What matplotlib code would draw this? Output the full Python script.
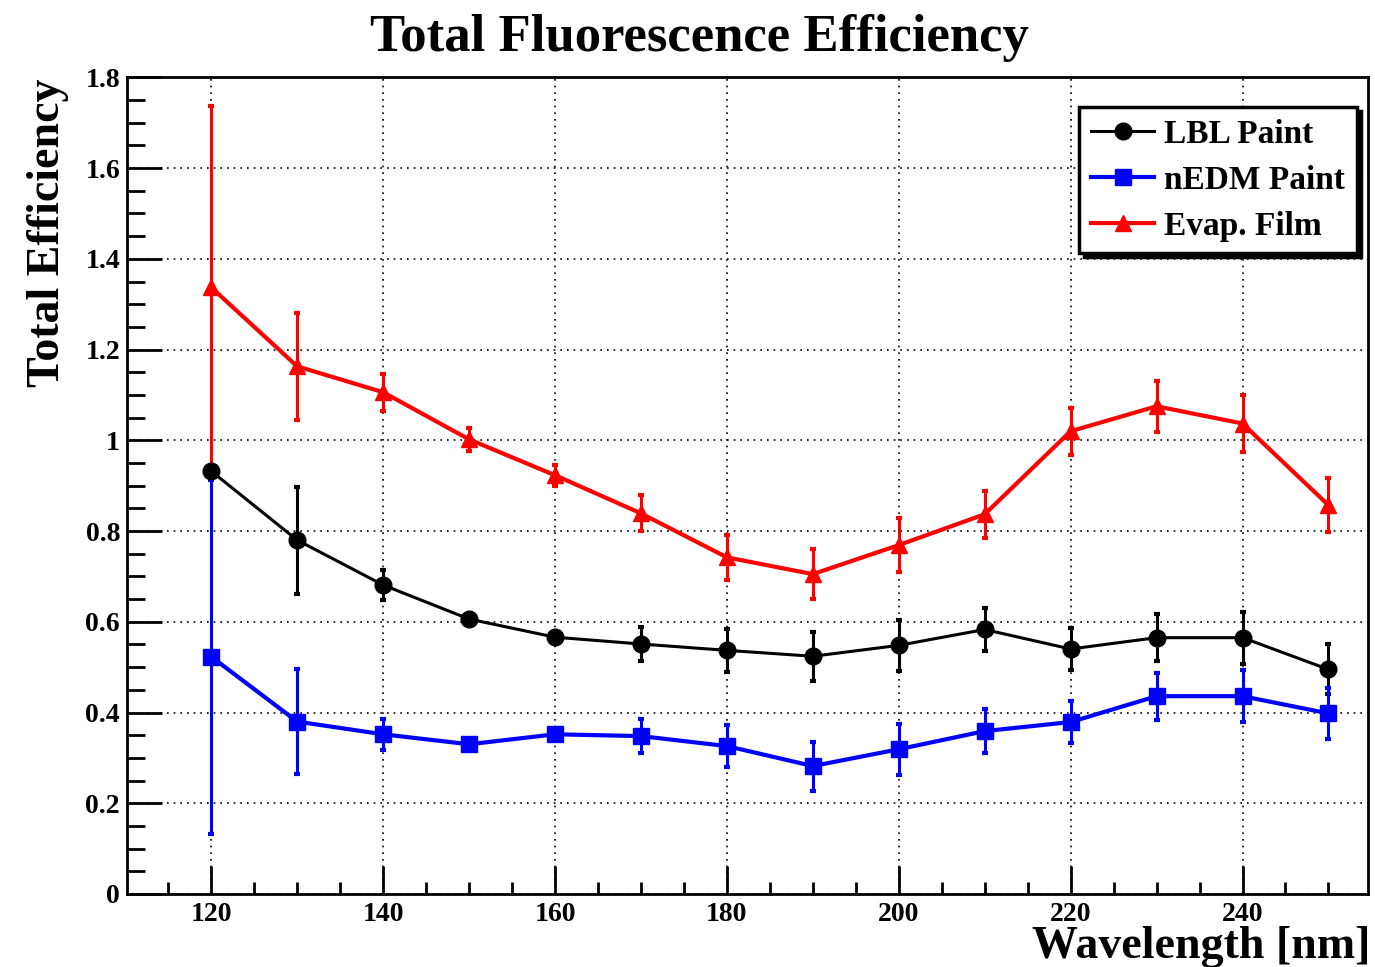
import numpy as np
import matplotlib
matplotlib.use("Agg")
import matplotlib.pyplot as plt
from matplotlib.lines import Line2D
from matplotlib.ticker import MultipleLocator, FuncFormatter

# -------- DATA --------
wavelength = [120, 130, 140, 150, 160, 170, 180, 190, 200, 210, 220, 230, 240, 250]

lbl_eff = [0.932, 0.780, 0.681, 0.606, 0.566, 0.551, 0.537, 0.524, 0.548, 0.583, 0.540, 0.565, 0.565, 0.495]
lbl_err = [0.0, 0.118, 0.034, 0.010, 0.010, 0.037, 0.048, 0.054, 0.056, 0.048, 0.047, 0.052, 0.057, 0.055]

nedm_eff = [0.523, 0.380, 0.352, 0.330, 0.352, 0.348, 0.326, 0.282, 0.319, 0.359, 0.379, 0.436, 0.436, 0.398]
nedm_err = [0.390, 0.116, 0.034, 0.010, 0.010, 0.037, 0.046, 0.054, 0.056, 0.048, 0.047, 0.052, 0.058, 0.056]

film_eff = [1.337, 1.163, 1.106, 1.002, 0.923, 0.839, 0.742, 0.705, 0.769, 0.837, 1.020, 1.075, 1.037, 0.857]
film_err = [0.400, 0.118, 0.041, 0.025, 0.023, 0.040, 0.050, 0.055, 0.060, 0.052, 0.052, 0.056, 0.062, 0.059]

series = [
    ("LBL Paint", lbl_eff, lbl_err, "black", "o", 12, 2.2),
    ("nEDM Paint", nedm_eff, nedm_err, "#0000ff", "s", 12, 3.0),
    ("Evap. Film", film_eff, film_err, "#ff0000", "^", 12, 3.0),
]

# -------- PLOT --------
plt.rcParams['font.family'] = ['Liberation Serif', 'DejaVu Serif']
plt.rcParams['font.weight'] = 'bold'

fig = plt.figure(figsize=(13.75, 9.67), dpi=100)
ax = fig.add_axes([0.0924, 0.0755, 0.9025, 0.8445])

handles = []
for name, y, e, col, mk, ms, lw in series:
    ax.errorbar(wavelength, y, yerr=e, color=col, marker=mk, markersize=ms,
                linewidth=lw, elinewidth=2.2, capsize=2, capthick=3)
    handles.append(Line2D([], [], color=col, marker=mk, markersize=ms,
                          linewidth=lw, label=name))

ax.set_xlim(110.2, 254.6)
ax.set_ylim(0, 1.8)

ax.xaxis.set_major_locator(MultipleLocator(20))
ax.xaxis.set_minor_locator(MultipleLocator(5))
ax.yaxis.set_major_locator(MultipleLocator(0.2))
ax.yaxis.set_minor_locator(MultipleLocator(0.05))
ax.yaxis.set_major_formatter(FuncFormatter(lambda v, p: "%g" % round(v, 2)))

ax.tick_params(which='both', direction='in', top=False, right=False, width=2,
               labelsize=20)
ax.tick_params(axis='y', which='major', length=25, pad=5)
ax.tick_params(axis='y', which='minor', length=13)
ax.tick_params(axis='x', which='major', length=20, pad=6)
ax.tick_params(axis='x', which='minor', length=9)
for lab in ax.get_xticklabels() + ax.get_yticklabels():
    lab.set_fontweight('bold')

for sp in ax.spines.values():
    sp.set_linewidth(2)

ax.grid(True, which='major', color='black', linestyle=(0, (1, 3)), linewidth=1.2)

leg = ax.legend(handles=handles, loc='upper right',
                bbox_to_anchor=(1357 / 1375, 1 - 107 / 967),
                bbox_transform=fig.transFigure, borderaxespad=0,
                frameon=True, fancybox=False,
                shadow={'color': 'black', 'alpha': 1, 'ox': 3, 'oy': -3},
                handlelength=1.9, borderpad=0.35, labelspacing=0.45,
                handletextpad=0.3, prop={'weight': 'bold', 'size': 24})
leg.get_frame().set_edgecolor('black')
leg.get_frame().set_linewidth(2.5)

fig.text(0.509, 0.986, "Total Fluorescence Efficiency", ha='center', va='top',
         fontsize=38, fontweight='bold')
fig.text(0.035, 0.919, "Total Efficiency", rotation=90, ha='center', va='top',
         fontsize=33, fontweight='bold')
fig.text(0.997, 0.021, "Wavelength [nm]", ha='right', va='center',
         fontsize=33, fontweight='bold')

fig.savefig("out.png", dpi=100)
